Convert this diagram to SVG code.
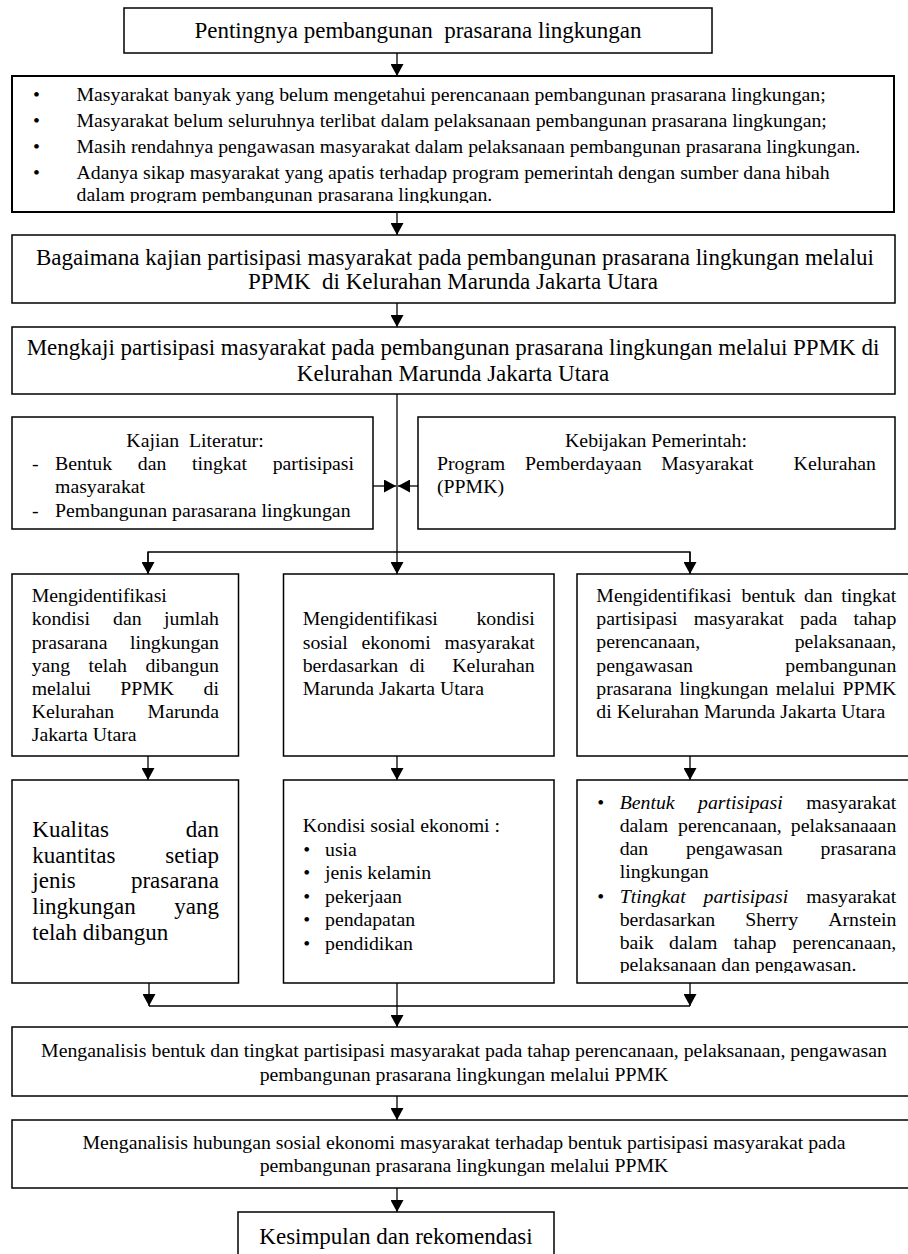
<svg xmlns="http://www.w3.org/2000/svg" width="908" height="1254" viewBox="0 0 908 1254">
<style>
.t{font-family:"Liberation Serif","Times New Roman",serif;fill:#000}
.s{font-size:19.8px}
.l{font-size:23px}
.i{font-style:italic}
.m{text-anchor:middle}
.e{text-anchor:end}
.box{fill:#fff;stroke:#000;stroke-width:1.5}
.ln{fill:none;stroke:#000;stroke-width:1.3}
</style>
<defs>
<marker id="ah" markerUnits="userSpaceOnUse" markerWidth="12" markerHeight="13" viewBox="0 0 12 13" refX="12" refY="6.5" orient="auto">
<path d="M0,0 L12,6.5 L0,13 z" fill="#000"/>
</marker>
<clipPath id="c2"><rect x="12" y="76" width="882" height="127"/></clipPath>
<clipPath id="c9"><rect x="577" y="780" width="340" height="193"/></clipPath>
</defs>

<g id="connectors">
<line class="ln" x1="397" y1="53" x2="397" y2="76" marker-end="url(#ah)"/>
<line class="ln" x1="397" y1="212" x2="397" y2="235" marker-end="url(#ah)"/>
<line class="ln" x1="397" y1="303" x2="397" y2="327" marker-end="url(#ah)"/>
<line class="ln" x1="397" y1="394" x2="397" y2="574" marker-end="url(#ah)"/>
<line class="ln" x1="373" y1="486" x2="396" y2="486" marker-end="url(#ah)"/>
<line class="ln" x1="418" y1="486" x2="398" y2="486" marker-end="url(#ah)"/>
<polyline class="ln" points="148,574 148,552 690,552 690,574"/>
<line class="ln" x1="148" y1="552" x2="148" y2="574" marker-end="url(#ah)"/>
<line class="ln" x1="690" y1="552" x2="690" y2="574" marker-end="url(#ah)"/>
<line class="ln" x1="148" y1="756" x2="148" y2="780" marker-end="url(#ah)"/>
<line class="ln" x1="397" y1="756" x2="397" y2="780" marker-end="url(#ah)"/>
<line class="ln" x1="690" y1="756" x2="690" y2="780" marker-end="url(#ah)"/>
<line class="ln" x1="149" y1="983" x2="149" y2="1006" marker-end="url(#ah)"/>
<line class="ln" x1="690" y1="983" x2="690" y2="1006" marker-end="url(#ah)"/>
<line class="ln" x1="149" y1="1006" x2="690" y2="1006"/>
<line class="ln" x1="397" y1="983" x2="397" y2="1027" marker-end="url(#ah)"/>
<line class="ln" x1="397" y1="1096" x2="397" y2="1120" marker-end="url(#ah)"/>
<line class="ln" x1="397" y1="1188" x2="397" y2="1212" marker-end="url(#ah)"/>
</g>

<g id="n-pentingnya">
<rect class="box" x="124" y="8" width="588" height="45"/>
<text class="t l m" x="418" y="38" xml:space="preserve">Pentingnya pembangunan  prasarana lingkungan</text>
</g>

<g id="n-masalah">
<rect class="box" x="12" y="76" width="882" height="136" style="stroke-width:2"/>
<g class="t s" clip-path="url(#c2)">
<text class="m" x="36.5" y="101">•</text>
<text class="m" x="36.5" y="127">•</text>
<text class="m" x="36.5" y="153">•</text>
<text class="m" x="36.5" y="179">•</text>
<text x="76.5" y="101">Masyarakat banyak yang belum mengetahui perencanaan pembangunan prasarana lingkungan;</text>
<text x="76.5" y="127">Masyarakat belum seluruhnya terlibat dalam pelaksanaan pembangunan prasarana lingkungan;</text>
<text x="76.5" y="153">Masih rendahnya pengawasan masyarakat dalam pelaksanaan pembangunan prasarana lingkungan.</text>
<text x="76.5" y="179">Adanya sikap masyarakat yang apatis terhadap program pemerintah dengan sumber dana hibah</text>
<text x="76.5" y="201">dalam program pembangunan prasarana lingkungan.</text>
</g>
</g>

<g id="n-bagaimana">
<rect class="box" x="12" y="235" width="883" height="68"/>
<text class="t l m" x="455" y="265">Bagaimana kajian partisipasi masyarakat pada pembangunan prasarana lingkungan melalui</text>
<text class="t l m" x="453" y="289" xml:space="preserve">PPMK  di Kelurahan Marunda Jakarta Utara</text>
</g>

<g id="n-mengkaji">
<rect class="box" x="12" y="327" width="883" height="67"/>
<text class="t l m" x="453" y="355">Mengkaji partisipasi masyarakat pada pembangunan prasarana lingkungan melalui PPMK di</text>
<text class="t l m" x="453" y="381">Kelurahan Marunda Jakarta Utara</text>
</g>

<g id="n-kajian">
<rect class="box" x="12" y="417" width="361" height="112"/>
<g class="t s">
<text class="m" x="195" y="447" xml:space="preserve">Kajian  Literatur:</text>
<text x="32" y="470">-</text>
<text x="55" y="470">Bentuk</text>
<text x="137.8" y="470">dan</text>
<text x="192" y="470">tingkat</text>
<text class="e" x="354" y="470">partisipasi</text>
<text x="55" y="493">masyarakat</text>
<text x="32" y="517">-</text>
<text x="55" y="517">Pembangunan parasarana lingkungan</text>
</g>
</g>

<g id="n-kebijakan">
<rect class="box" x="418" y="417" width="477" height="112"/>
<g class="t s">
<text class="m" x="656" y="447">Kebijakan Pemerintah:</text>
<text x="437" y="470">Program</text>
<text x="525.1" y="470">Pemberdayaan</text>
<text x="661.2" y="470">Masyarakat</text>
<text class="e" x="876" y="470">Kelurahan</text>
<text x="437" y="493">(PPMK)</text>
</g>
</g>

<g id="n-identifikasi-prasarana">
<rect class="box" x="12" y="574" width="226.5" height="182"/>
<g class="t s">
<text x="31.7" y="602">Mengidentifikasi</text>
<text x="31.7" y="625">kondisi</text>
<text x="113" y="625">dan</text>
<text class="e" x="219" y="625">jumlah</text>
<text x="31.7" y="649">prasarana</text>
<text class="e" x="219" y="649">lingkungan</text>
<text x="31.7" y="672">yang</text>
<text x="88.5" y="672">telah</text>
<text class="e" x="219" y="672">dibangun</text>
<text x="31.7" y="695">melalui</text>
<text x="120.2" y="695">PPMK</text>
<text class="e" x="219" y="695">di</text>
<text x="31.7" y="718">Kelurahan</text>
<text class="e" x="219" y="718">Marunda</text>
<text x="31.7" y="741">Jakarta Utara</text>
</g>
</g>

<g id="n-identifikasi-sosial">
<rect class="box" x="283.5" y="574" width="270.5" height="182"/>
<g class="t s">
<text x="302.7" y="625">Mengidentifikasi</text>
<text class="e" x="534.7" y="625">kondisi</text>
<text x="302.7" y="649">sosial</text>
<text x="361.5" y="649">ekonomi</text>
<text class="e" x="534.7" y="649">masyarakat</text>
<text x="302.7" y="672">berdasarkan</text>
<text x="409.5" y="672">di</text>
<text class="e" x="534.7" y="672">Kelurahan</text>
<text x="302.7" y="695">Marunda Jakarta Utara</text>
</g>
</g>

<g id="n-identifikasi-partisipasi">
<rect class="box" x="577" y="574" width="340" height="182"/>
<g class="t s">
<text x="596.3" y="602">Mengidentifikasi</text>
<text x="741.5" y="602">bentuk</text>
<text x="804" y="602">dan</text>
<text class="e" x="896.3" y="602">tingkat</text>
<text x="596.3" y="625">partisipasi</text>
<text x="693.7" y="625">masyarakat</text>
<text x="799.9" y="625">pada</text>
<text class="e" x="896.3" y="625">tahap</text>
<text x="596.3" y="648">perencanaan,</text>
<text class="e" x="896.3" y="648">pelaksanaan,</text>
<text x="596.3" y="672">pengawasan</text>
<text class="e" x="896.3" y="672">pembangunan</text>
<text x="596.3" y="695">prasarana</text>
<text x="679.4" y="695">lingkungan</text>
<text x="775.7" y="695">melalui</text>
<text class="e" x="896.3" y="695">PPMK</text>
<text x="596.3" y="718">di Kelurahan Marunda Jakarta Utara</text>
</g>
</g>

<g id="n-kualitas">
<rect class="box" x="12" y="780" width="226.5" height="203"/>
<g class="t l">
<text x="32.3" y="837">Kualitas</text>
<text class="e" x="219" y="837">dan</text>
<text x="32.3" y="862.5">kuantitas</text>
<text class="e" x="219" y="862.5">setiap</text>
<text x="32.3" y="888">jenis</text>
<text class="e" x="219" y="888">prasarana</text>
<text x="32.3" y="914">lingkungan</text>
<text class="e" x="219" y="914">yang</text>
<text x="32.3" y="940">telah dibangun</text>
</g>
</g>

<g id="n-kondisi-sosial">
<rect class="box" x="283.5" y="780" width="270.5" height="203"/>
<g class="t s">
<text x="302.7" y="832">Kondisi sosial ekonomi :</text>
<text class="m" x="306.7" y="856">•</text>
<text class="m" x="306.7" y="879">•</text>
<text class="m" x="306.7" y="903">•</text>
<text class="m" x="306.7" y="926">•</text>
<text class="m" x="306.7" y="950">•</text>
<text x="325" y="856">usia</text>
<text x="325" y="879">jenis kelamin</text>
<text x="325" y="903">pekerjaan</text>
<text x="325" y="926">pendapatan</text>
<text x="325" y="950">pendidikan</text>
</g>
</g>

<g id="n-bentuk-tingkat">
<rect class="box" x="577" y="780" width="340" height="203"/>
<g class="t s" clip-path="url(#c9)">
<text class="m" x="600.7" y="809">•</text>
<text class="i" x="619.7" y="809">Bentuk</text>
<text class="i" x="698" y="809">partisipasi</text>
<text class="e" x="896.3" y="809">masyarakat</text>
<text x="619.7" y="832">dalam</text>
<text x="678" y="832">perencanaan,</text>
<text class="e" x="896.3" y="832">pelaksanaaan</text>
<text x="619.7" y="855">dan</text>
<text x="686" y="855">pengawasan</text>
<text class="e" x="896.3" y="855">prasarana</text>
<text x="619.7" y="878">lingkungan</text>
<text class="m" x="600.7" y="903">•</text>
<text class="i" x="619.7" y="903">Ttingkat</text>
<text class="i" x="703.5" y="903">partisipasi</text>
<text class="e" x="896.3" y="903">masyarakat</text>
<text x="619.7" y="926">berdasarkan</text>
<text x="745.3" y="926">Sherry</text>
<text class="e" x="896.3" y="926">Arnstein</text>
<text x="619.7" y="949">baik</text>
<text x="669" y="949">dalam</text>
<text x="733.5" y="949">tahap</text>
<text class="e" x="896.3" y="949">perencanaan,</text>
<text x="619.7" y="971">pelaksanaan dan pengawasan.</text>
</g>
</g>

<g id="n-analisis-bentuk">
<rect class="box" x="12" y="1027" width="905" height="69"/>
<text class="t s m" x="464" y="1057">Menganalisis bentuk dan tingkat partisipasi masyarakat pada tahap perencanaan, pelaksanaan, pengawasan</text>
<text class="t s m" x="464" y="1081">pembangunan prasarana lingkungan melalui PPMK</text>
</g>

<g id="n-analisis-hubungan">
<rect class="box" x="12" y="1120" width="905" height="68"/>
<text class="t s m" x="464" y="1149">Menganalisis hubungan sosial ekonomi masyarakat terhadap bentuk partisipasi masyarakat pada</text>
<text class="t s m" x="464" y="1172">pembangunan prasarana lingkungan melalui PPMK</text>
</g>

<g id="n-kesimpulan">
<rect class="box" x="238" y="1212" width="316" height="60"/>
<text class="t l m" x="396" y="1244">Kesimpulan dan rekomendasi</text>
</g>
</svg>
